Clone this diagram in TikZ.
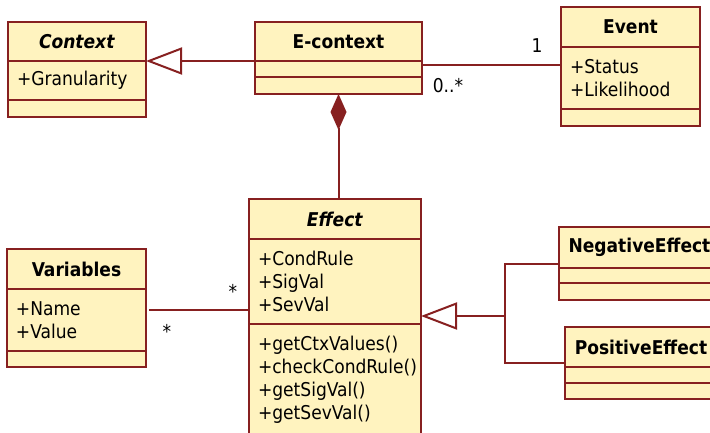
\documentclass[tikz,border=0pt]{standalone}
\usepackage{fontspec}
\setmainfont{DejaVu Sans Condensed}[BoldFont={DejaVu Sans Condensed Bold}, ItalicFont={DejaVu Sans Condensed Oblique}, BoldItalicFont={DejaVu Sans Condensed Bold Oblique}]
\usetikzlibrary{shapes.multipart, arrows.meta, positioning}
\definecolor{umlred}{RGB}{135,32,32}
\definecolor{umlfill}{RGB}{255,243,191}
\newcommand{\classpart}[3]{\parbox[c][#2pt][c]{#1pt}{#3}}

\begin{document}
\begin{tikzpicture}[x=1pt, y=-1pt,
  every node/.style = {font=\fontsize{19pt}{23pt}\selectfont},
  umlclass/.style = {draw=umlred, fill=umlfill, line width=2pt, rectangle split, rectangle split parts=3,
                     inner xsep=9pt, inner ysep=0pt, outer sep=0pt, anchor=north west},
  link/.style = {draw=umlred, line width=2pt},
  extends/.style = {link, -{Triangle[open, length=36pt, width=27pt, fill=white]}},
  composed/.style = {link, {Diamond[length=36pt, width=16pt, fill=umlred]}-}]

  \useasboundingbox (0,0) rectangle (710,433);
  \clip (0,0) rectangle (710,433);

  \node[umlclass] (context) at (8,22) {\classpart{120}{37}{\centering\textbf{\textit{Context}}}
    \nodepart{two}\classpart{120}{37}{+Granularity}
    \nodepart{three}\classpart{120}{15}{}};
  \node[umlclass] (econtext) at (255,22) {\classpart{149}{37}{\centering\textbf{E-context}}
    \nodepart{two}\classpart{149}{14}{}
    \nodepart{three}\classpart{149}{15}{}};
  \node[umlclass] (event) at (561,7) {\classpart{121}{38}{\centering\textbf{Event}}
    \nodepart{two}\classpart{121}{60}{+Status\\+Likelihood}
    \nodepart{three}\classpart{121}{15}{}};
  \node[umlclass] (variables) at (7,249) {\classpart{121}{38}{\centering\textbf{Variables}}
    \nodepart{two}\classpart{121}{60}{+Name\\+Value}
    \nodepart{three}\classpart{121}{14}{}};
  \node[umlclass] (effect) at (249,199) {\classpart{154}{38}{\centering\textbf{\textit{Effect}}}
    \nodepart{two}\classpart{154}{83}{+CondRule\\+SigVal\\+SevVal}
    \nodepart{three}\classpart{154}{110}{+getCtxValues()\\+checkCondRule()\\+getSigVal()\\+getSevVal()}};
  \node[umlclass] (negeffect) at (559,227) {\classpart{143}{39}{\centering\textbf{NegativeEffect}}
    \nodepart{two}\classpart{143}{13}{}
    \nodepart{three}\classpart{143}{15}{}};
  \node[umlclass] (poseffect) at (565,327) {\classpart{134}{38}{\centering\textbf{PositiveEffect}}
    \nodepart{two}\classpart{134}{14}{}
    \nodepart{three}\classpart{134}{14}{}};

  % multiplicities
  \node (one) at (537,46) {1};
  \node (zeromany) at (448,86) {0..*};
  \node (manyeff) at (233,291) {*};
  \node (manyvar) at (167,331) {*};

  \coordinate (ea) at ([yshift=-4pt]econtext.text split east);
  \coordinate (va) at ([xshift=3pt, yshift=-21pt]variables.text split east);
  \coordinate (eg) at ([yshift=8pt]effect.two split east);
  \coordinate (ej) at ([xshift=84pt]eg);

  \draw[extends] (econtext.text split west) -- (context.text split east);
  \draw[link] (ea) -- (ea -| event.west);
  \draw[composed] (econtext.south) -- (econtext.south |- effect.north);
  \draw[link] (va) -- (va -| effect.west);
  \draw[link] (negeffect.west) -| (ej) |- (poseffect.west);
  \draw[extends] (ej) -- (eg);
\end{tikzpicture}
\end{document}
